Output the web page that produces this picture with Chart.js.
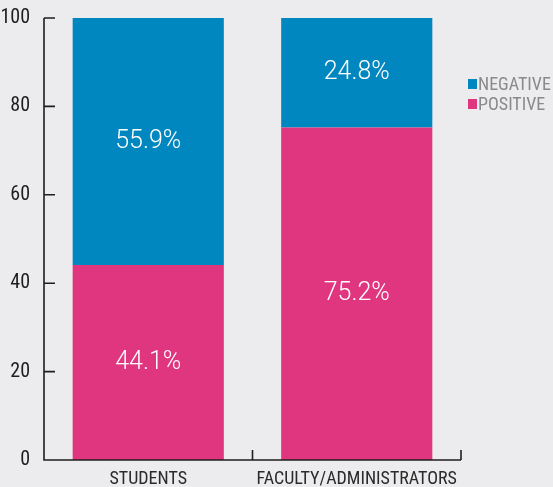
<!DOCTYPE html>
<html>
<head>
<meta charset="utf-8">
<script src="https://cdn.jsdelivr.net/npm/chart.js@4/dist/chart.umd.min.js"></script>
<style>
  html, body { margin: 0; padding: 0; background: #ececee; }
  #wrap { width: 553px; height: 487px; }
</style>
</head>
<body>
<div id="wrap"><canvas id="chart" width="553" height="487"></canvas></div>
<script>
// data
const categories = ["STUDENTS", "FACULTY/ADMINISTRATORS"];
const positive = [44.1, 75.2];
const negative = [55.9, 24.8];
const yTicks = [0, 20, 40, 60, 80, 100];

const narrow = "'Liberation Sans Narrow', 'Roboto Condensed', 'Arial Narrow', sans-serif";
const ink = "#1e1e1e";

// value labels in the middle of each segment
const barLabels = {
  id: "barLabels",
  afterDatasetsDraw(chart) {
    const ctx = chart.ctx;
    ctx.save();
    ctx.fillStyle = "#fff";
    ctx.font = "300 25px Roboto, sans-serif";
    ctx.textAlign = "center";
    ctx.textBaseline = "middle";
    chart.data.datasets.forEach((ds, i) => {
      chart.getDatasetMeta(i).data.forEach((el, j) => {
        ctx.fillText(ds.data[j].toFixed(1) + "%", el.x, (el.y + el.base) / 2);
      });
    });
    ctx.restore();
  }
};

// axis lines with inward ticks, plus legend on the right
const frame = {
  id: "frame",
  afterDraw(chart) {
    const ctx = chart.ctx;
    const a = chart.chartArea;
    const y = chart.scales.y;
    ctx.save();
    ctx.strokeStyle = ink;
    ctx.lineWidth = 1.6;
    ctx.beginPath();
    ctx.moveTo(a.left, a.top);
    ctx.lineTo(a.left, a.bottom);
    ctx.lineTo(a.right, a.bottom);
    yTicks.forEach(v => {
      if (v === 0) return;
      const py = y.getPixelForValue(v);
      ctx.moveTo(a.left, py);
      ctx.lineTo(a.left + 11, py);
    });
    const step = (a.right - a.left) / categories.length;
    for (let i = 1; i <= categories.length; i++) {
      const px = a.left + step * i;
      ctx.moveTo(px, a.bottom);
      ctx.lineTo(px, a.bottom - 10);
    }
    ctx.stroke();

    // legend, NEGATIVE on top
    const items = [chart.data.datasets[1], chart.data.datasets[0]];
    ctx.font = "18px " + narrow;
    ctx.textBaseline = "middle";
    ctx.textAlign = "left";
    items.forEach((ds, i) => {
      const ly = 84 + i * 20;
      ctx.fillStyle = ds.backgroundColor;
      ctx.fillRect(468, ly - 5, 9, 10);
      ctx.fillStyle = "#8a8a8a";
      ctx.fillText(ds.label, 478, ly + 1);
    });
    ctx.restore();
  }
};

new Chart(document.getElementById("chart"), {
  type: "bar",
  data: {
    labels: categories,
    datasets: [
      { label: "POSITIVE", data: positive, backgroundColor: "#e0357f" },
      { label: "NEGATIVE", data: negative, backgroundColor: "#0087bf" }
    ]
  },
  options: {
    responsive: false,
    animation: false,
    layout: { padding: { top: 17, right: 92, left: 0, bottom: 0 } },
    datasets: { bar: { categoryPercentage: 1, barPercentage: 0.725 } },
    plugins: { legend: { display: false }, tooltip: { enabled: false } },
    scales: {
      x: {
        stacked: true,
        grid: { display: false },
        border: { display: false },
        ticks: { color: "#2a2a2a", font: { family: narrow, size: 18 }, padding: 1 },
        afterFit(s) { s.height = 27; }
      },
      y: {
        stacked: true,
        min: 0,
        max: 100,
        afterBuildTicks(s) { s.ticks = yTicks.map(v => ({ value: v })); },
        grid: { display: false },
        border: { display: false },
        ticks: { color: ink, font: { family: narrow, size: 20 }, padding: 6 },
        afterFit(s) { s.width = 44; }
      }
    }
  },
  plugins: [barLabels, frame]
});
</script>
</body>
</html>
